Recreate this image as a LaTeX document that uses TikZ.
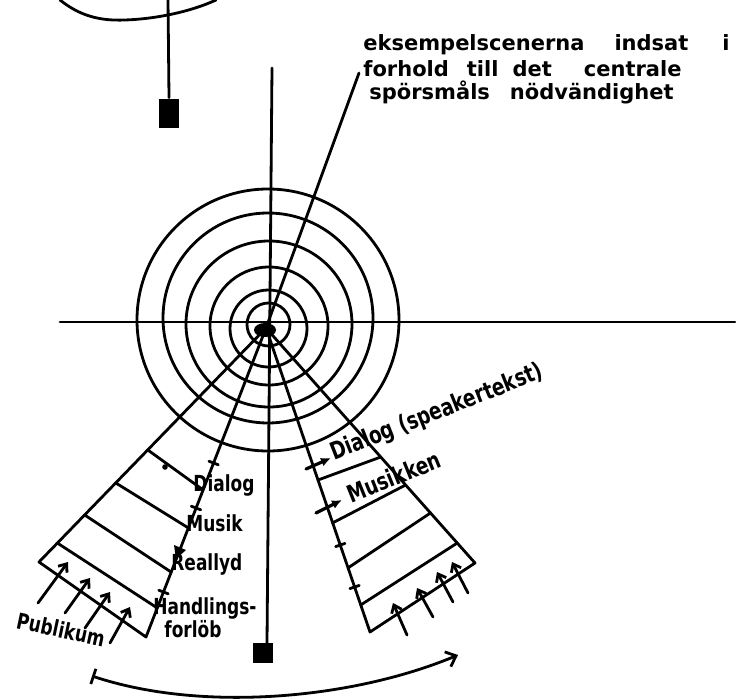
\documentclass[tikz,border=0pt]{standalone}
\usepackage{fontspec}
\usepackage{graphicx}
\setmainfont{DejaVu Sans}
\usetikzlibrary{arrows.meta,calc}
\newcommand{\talltxt}[1]{\scalebox{1}[1.3]{#1}}
\begin{document}
\begin{tikzpicture}[x=1pt,y=-1pt,line width=2.8pt,line cap=round,line join=round,
  toptext/.style={font=\bfseries\fontsize{21}{23}\selectfont,anchor=base west,inner sep=0pt},
  lab/.style={font=\bfseries\fontsize{17}{19}\selectfont,anchor=base west,inner sep=0pt},
  block/.style={fill=black,draw=none,inner sep=0pt},
  uparr/.style={-{Straight Barb[length=7pt,width=11pt]}},
  ptr/.style={-{Latex[length=10pt,width=9pt]},line width=3.2pt}]
\useasboundingbox (0,0) rectangle (736,699);

% named points
\coordinate (C) at (266,328);
\coordinate (LL) at (39,562);
\coordinate (LR) at (146,637);
\coordinate (RL) at (370,632);
\coordinate (RR) at (475,563);
\coordinate (vt) at (272,68);
\coordinate (vb) at (267,643);
\coordinate (hl) at (60,322);
\coordinate (hr) at (735,322);
\coordinate (lead) at (359,73);

% top-left fragment
\draw (60,0) .. controls (80,16) and (100,21) .. (125,20) .. controls (155,19) and (190,12) .. (216,0);
\node[block,minimum width=20pt,minimum height=29pt] (wt) at (169,113.5) {};
\draw (168,0) -- (wt.north);

% concentric rings
\draw (268,320) circle[radius=131pt];
\draw (268,318) circle[radius=105pt];
\draw (269,324) circle[radius=83pt];
\draw (269,326) circle[radius=59pt];
\draw (268.5,328.5) circle[radius=38.5pt];
\draw (268.5,324.5) circle[radius=21.5pt];
\fill (265,330) ellipse[x radius=11pt,y radius=7pt];

% axes and leader
\draw (hl) -- (hr);
\node[block,minimum width=20pt,minimum height=20pt] (wb) at (263,653) {};
\draw (vt) -- (vb);
\draw (C) -- (lead);

% top text
\node[toptext] (t1) at (362,50) {eksempelscenerna\hspace{30pt}indsat\hspace{34pt}i};
\node[toptext] (t2) at (362,76) {forhold\hspace{18pt}till\hspace{14pt}det\hspace{32pt}centrale};
\node[toptext] (t3) at (368,99) {spörsmåls\hspace{20pt}nödvändighet};

% left wedge
\draw (C) -- (LL) -- (LR) -- cycle;
\draw ($(C)!0.521!(LL)$) -- ($(C)!0.524!(LR)$);
\draw ($(C)!0.662!(LL)$) -- ($(C)!0.647!(LR)$);
\draw ($(C)!0.799!(LL)$) -- ($(C)!0.790!(LR)$);
\draw ($(C)!0.919!(LL)$) -- ($(C)!0.906!(LR)$);
\fill (165,467) circle[radius=2.8pt];
\draw (208.9,461.2) -- (218.3,464.8);
\draw (191.3,506.2) -- (200.7,509.8);
\draw (158.8,590.2) -- (168.2,593.8);
\fill (176,559) -- (186,550) -- (174,545) -- cycle;

% right wedge
\draw (C) -- (RL) -- (RR) -- cycle;
\draw ($(C)!0.500!(RL)$) -- ($(C)!0.549!(RR)$);
\draw ($(C)!0.641!(RL)$) -- ($(C)!0.668!(RR)$);
\draw ($(C)!0.789!(RL)$) -- ($(C)!0.787!(RR)$);
\draw ($(C)!0.911!(RL)$) -- ($(C)!0.915!(RR)$);
\draw[ptr] (306,469) -- (331,458);
\draw[ptr] (316,513) -- (342,500);
\draw (335.6,546.6) -- (345,543.4);
\draw (349.9,588.6) -- (359.3,585.4);

% labels
\node[lab] (dl) at (192,491) {\talltxt{Dialog}};
\node[lab] (ml) at (185,531) {\talltxt{Musik}};
\node[lab] (rl) at (170,570) {\talltxt{Reallyd}};
\node[lab] (hd) at (152,614) {\talltxt{Handlings-}};
\node[lab] (fl) at (163,637) {\talltxt{forlöb}};
\node[lab,font=\bfseries\fontsize{18.5}{20}\selectfont,rotate=21.5] (dr) at (333,461) {\talltxt{Dialog (speakertekst)}};
\node[lab,font=\bfseries\fontsize{18.5}{20}\selectfont,rotate=22] (mr) at (350,504) {\talltxt{Musikken}};
\node[lab,font=\bfseries\fontsize{17}{19}\selectfont,rotate=-12] (pub) at (14,628) {\talltxt{Publikum}};

% audience arrows
\draw[uparr] (38,603) -- (68,562);
\draw[uparr] (65,613) -- (90,578);
\draw[uparr] (85,628) -- (110,592);
\draw[uparr] (110,643) -- (130,607);
\draw[uparr] (407,635) -- (393,603);
\draw[uparr] (433,617) -- (417,588);
\draw[uparr] (453,602) -- (437,572);
\draw[uparr] (468,593) -- (452,562);

% bottom sweep arrow
\draw[{Bar[width=16pt]}-{Straight Barb[length=9pt,width=16pt]}] (92,676) .. controls (200,712) and (350,700) .. (458,655);
\end{tikzpicture}
\end{document}
